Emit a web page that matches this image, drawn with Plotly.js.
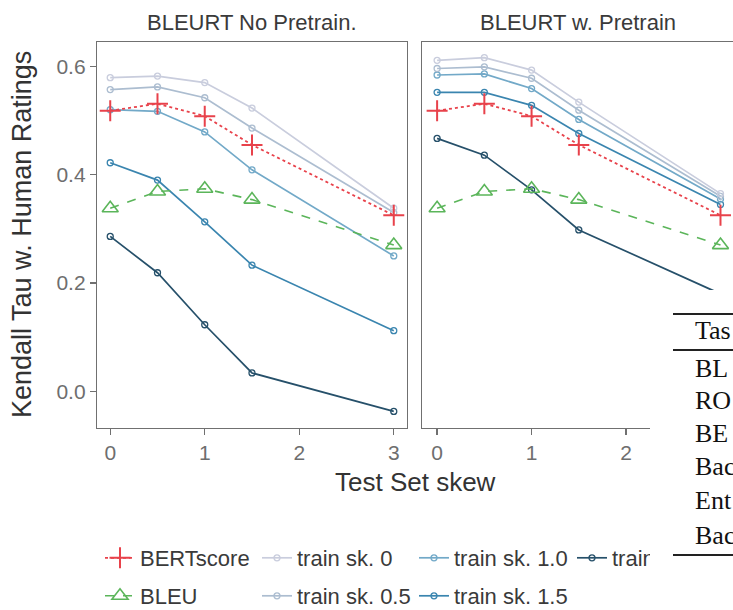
<!DOCTYPE html>
<html>
<head>
<meta charset="utf-8">
<script src="https://cdn.plot.ly/plotly-3.0.1.min.js"></script>
<style>
html,body{margin:0;padding:0;background:#fff;overflow:hidden;width:733px;height:610px;}
#chart{position:absolute;left:0;top:0;width:736px;height:610px;}
#tbl{position:absolute;left:650px;top:290px;width:83px;height:320px;background:#fff;overflow:hidden;
  font-family:"Liberation Serif","Times New Roman",serif;color:#111;font-size:26px;}
#tbl .rule{position:absolute;left:23px;width:80px;background:#222;}
#tbl .cell{position:absolute;left:45px;white-space:nowrap;line-height:26px;height:26px;}
</style>
</head>
<body>
<div id="chart"></div>
<div id="tbl"></div>
<script>
// ---------------- data ----------------
const skew = [0, 0.5, 1, 1.5, 3];
const bertscore = [0.518, 0.531, 0.508, 0.455, 0.325];
const bleu = [0.338, 0.369, 0.374, 0.354, 0.270];
// BLEURT No Pretrain.
const noPre_sk0  = [0.579, 0.582, 0.570, 0.523, 0.338];
const noPre_sk05 = [0.557, 0.562, 0.542, 0.486, 0.330];
const noPre_sk10 = [0.520, 0.517, 0.479, 0.409, 0.250];
const noPre_sk15 = [0.422, 0.390, 0.313, 0.233, 0.112];
const noPre_sk30 = [0.286, 0.219, 0.123, 0.034, -0.037];
// BLEURT w. Pretrain
const pre_sk0  = [0.611, 0.616, 0.593, 0.534, 0.365];
const pre_sk05 = [0.596, 0.599, 0.578, 0.519, 0.360];
const pre_sk10 = [0.584, 0.586, 0.559, 0.502, 0.355];
const pre_sk15 = [0.552, 0.552, 0.528, 0.476, 0.345];
const pre_sk30 = [0.467, 0.436, 0.372, 0.298, 0.180];

const trainLabels = ["train sk. 0", "train sk. 0.5", "train sk. 1.0", "train sk. 1.5", "train sk. 3.0"];
const panelTitles = ["BLEURT No Pretrain.", "BLEURT w. Pretrain"];
const xTicksLeft = [0, 1, 2, 3];
const xTicksRight = [0, 1, 2];
const yTicks = [0.0, 0.2, 0.4, 0.6];
// visible fragment of the overlapping table (cut at the picture's right edge)
const tableRows = ["BL", "RO", "BE", "Bac", "Ent", "Bac"];
const tableHeader = "Tas";

// ---------------- styles ----------------
const trainColors = ["#c9cddd", "#acbdd0", "#72a9c8", "#3a85af", "#26506a"];
const legendOf = ["legend", "legend2", "legend", "legend2", "legend3"];
const rankOf = [2, 2, 3, 3, 4];
const red = "#e8424b", green = "#5bb55a";

const noPre = [noPre_sk0, noPre_sk05, noPre_sk10, noPre_sk15, noPre_sk30];
const pre = [pre_sk0, pre_sk05, pre_sk10, pre_sk15, pre_sk30];

const traces = [];
[noPre, pre].forEach((panel, p) => {
  const xa = p === 0 ? "x" : "x2", ya = p === 0 ? "y" : "y2";
  for (let i = panel.length - 1; i >= 0; i--) {
    traces.push({
      type: "scatter", mode: "lines+markers", x: skew, y: panel[i], xaxis: xa, yaxis: ya,
      name: trainLabels[i], legendgroup: trainLabels[i], showlegend: p === 0,
      legend: legendOf[i], legendrank: rankOf[i],
      line: {color: trainColors[i], width: 1.7},
      marker: {symbol: "circle-open", size: 6, color: trainColors[i], line: {width: 1.3, color: trainColors[i]}}
    });
  }
  traces.push({
    type: "scatter", mode: "lines+markers", x: skew, y: bleu, xaxis: xa, yaxis: ya,
    name: "BLEU", legendgroup: "BLEU", showlegend: p === 0, legend: "legend2", legendrank: 1,
    line: {color: green, width: 1.6, dash: "dash"},
    marker: {symbol: "triangle-up-open", size: 14, color: green, line: {width: 1.6, color: green}}
  });
  traces.push({
    type: "scatter", mode: "lines+markers", x: skew, y: bertscore, xaxis: xa, yaxis: ya,
    name: "BERTscore", legendgroup: "BERTscore", showlegend: p === 0, legend: "legend", legendrank: 1,
    line: {color: red, width: 1.8, dash: "dot"},
    marker: {symbol: "cross-thin-open", size: 15, color: red, line: {width: 2, color: red}}
  });
});

// ---------------- layout ----------------
const W = 736, H = 610, ML = 97, MR = 2, MT = 42, MB = 182;
const gw = W - ML - MR, gh = H - MT - MB;
const px = v => (v - ML) / gw;
const py = v => (H - MB - v) / gh;

const axisCommon = {
  showgrid: false, zeroline: false, showline: true, mirror: true,
  linecolor: "#707070", linewidth: 1.2,
  ticks: "outside", ticklen: 6, tickwidth: 1.4, tickcolor: "#707070",
  tickfont: {family: "Liberation Sans, Arial, sans-serif", size: 21, color: "#6e6e6e"}
};
const tickText = v => v.toFixed(1);

const legendCommon = {
  orientation: "h", xanchor: "left", yanchor: "middle",
  entrywidth: 112, entrywidthmode: "pixels", bgcolor: "rgba(0,0,0,0)",
  font: {family: "Liberation Sans, Arial, sans-serif", size: 22, color: "#3a3a3a"},
  traceorder: "normal", itemsizing: "trace"
};

const layout = {
  width: W, height: H,
  margin: {l: ML, r: MR, t: MT, b: MB, pad: 0, autoexpand: false},
  paper_bgcolor: "#fff", plot_bgcolor: "#fff",
  font: {family: "Liberation Sans, Arial, sans-serif", color: "#333"},
  xaxis: Object.assign({}, axisCommon, {domain: [0, 310 / gw], range: [-0.14, 3.14], tickvals: xTicksLeft, ticktext: xTicksLeft.map(String)}),
  xaxis2: Object.assign({}, axisCommon, {domain: [325 / gw, 1], range: [-0.16, 3.143], tickvals: xTicksRight, ticktext: xTicksRight.map(String), anchor: "y2"}),
  yaxis: Object.assign({}, axisCommon, {range: [-0.0676, 0.6449], tickvals: yTicks, ticktext: yTicks.map(tickText)}),
  yaxis2: Object.assign({}, axisCommon, {range: [-0.0676, 0.6449], anchor: "x2", matches: "y", ticks: "", showticklabels: false}),
  showlegend: true,
  legend: Object.assign({}, legendCommon, {x: px(100), y: py(558)}),
  legend2: Object.assign({}, legendCommon, {x: px(100), y: py(596)}),
  legend3: Object.assign({}, legendCommon, {x: px(572), y: py(558)}),
  annotations: [
    {text: panelTitles[0], xref: "paper", yref: "paper", x: px(252), y: py(22), showarrow: false,
     xanchor: "center", yanchor: "middle", font: {size: 22, color: "#3a3a3a"}},
    {text: panelTitles[1], xref: "paper", yref: "paper", x: px(577.5), y: py(22), showarrow: false,
     xanchor: "center", yanchor: "middle", font: {size: 22, color: "#3a3a3a"}},
    {text: "Test Set skew", xref: "paper", yref: "paper", x: px(415), y: py(482), showarrow: false,
     xanchor: "center", yanchor: "middle", font: {size: 26, color: "#333"}},
    {text: "Kendall Tau w. Human Ratings", xref: "paper", yref: "paper", x: px(22), y: py(235), showarrow: false,
     xanchor: "center", yanchor: "middle", textangle: -90, font: {size: 27, color: "#333"}}
  ]
};

Plotly.newPlot("chart", traces, layout, {displayModeBar: false, staticPlot: true});

// ---------------- overlapping table fragment ----------------
const tbl = document.getElementById("tbl");
const addRule = (top, h) => { const d = document.createElement("div"); d.className = "rule"; d.style.top = (top - 290) + "px"; d.style.height = h + "px"; tbl.appendChild(d); };
const addCell = (txt, cy) => { const d = document.createElement("div"); d.className = "cell"; d.textContent = txt; d.style.top = (cy - 290 - 13) + "px"; tbl.appendChild(d); };
addRule(313, 2);
addCell(tableHeader, 331);
addRule(349, 1.5);
const rowY = [369, 401, 434, 467, 501, 536];
tableRows.forEach((r, i) => addCell(r, rowY[i]));
addRule(554, 2);
</script>
</body>
</html>
